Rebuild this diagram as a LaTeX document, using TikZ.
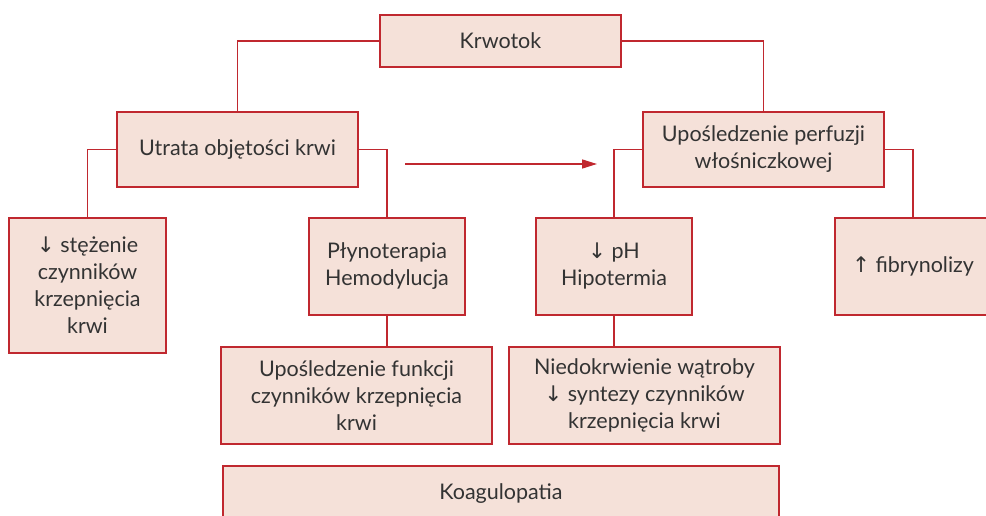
\documentclass[tikz,border=0pt]{standalone}
\usepackage{fontspec}
\setmainfont{Lato}
\newfontfamily\arrowfont{DejaVu Sans}
\usetikzlibrary{arrows.meta}
\definecolor{boxfill}{HTML}{F5E1D9}
\definecolor{boxline}{HTML}{C0282F}
\definecolor{txt}{HTML}{333333}
\newcommand{\dn}{{\arrowfont\char"2193}}
\newcommand{\up}{{\arrowfont\char"2191}}
\tikzset{
  box/.style={draw=boxline, fill=boxfill, line width=1.5pt, rectangle,
    align=center, inner sep=0pt, text=txt,
    font=\fontsize{21.5}{27}\selectfont},
  link/.style={draw=boxline, line width=1.5pt},
  flow/.style={link, -{Triangle[length=15pt,width=9pt]}}
}
\begin{document}
\begin{tikzpicture}[x=1pt,y=-1pt]
\useasboundingbox (0,0) rectangle (986,516);
\clip (0,0) rectangle (986,516);

% top level
\node[box, minimum width=241pt, minimum height=52pt] (krw) at (500.5,41) {Krwotok};

% second level
\node[box, minimum width=241pt, minimum height=75pt] (utr) at (237.5,149.5) {Utrata objętości krwi};
\node[box, minimum width=241pt, minimum height=75pt] (perf) at (763.5,149.5) {Upośledzenie perfuzji\\włośniczkowej};

% third level
\node[box, minimum width=157pt, minimum height=135pt] (stez) at (87.5,285.5) {\dn\ stężenie\\czynników\\krzepnięcia\\krwi};
\node[box, minimum width=156pt, minimum height=97pt] (plyn) at (387,266.5) {Płynoterapia\\Hemodylucja};
\node[box, minimum width=156pt, minimum height=97pt] (ph) at (614,266.5) {\dn\ pH\\Hipotermia};
\node[box, minimum width=156pt, minimum height=97pt] (fib) at (913,266.5) {\up\ fibrynolizy};

% fourth level
\node[box, minimum width=271pt, minimum height=97pt] (funk) at (356.5,395.5) {Upośledzenie funkcji\\czynników krzepnięcia\\krwi};
\node[box, minimum width=271pt, minimum height=97pt] (nied) at (644.5,395.5) {Niedokrwienie wątroby\\\dn\ syntezy czynników\\krzepnięcia krwi};

% bottom
\node[box, minimum width=556pt, minimum height=56pt] (koag) at (501,494) {Koagulopatia};

% connectors
\draw[link] (krw.west) -| (utr.north);
\draw[link] (krw.east) -| (perf.north);
\draw[link] (utr.west) -| (stez.north);
\draw[link] (utr.east) -| (plyn.north);
\draw[link] (perf.west) -| (ph.north);
\draw[link] (perf.east) -| (fib.north);
\draw[link] (plyn.south) -- (plyn.south |- funk.north);
\draw[link] (ph.south) -- (ph.south |- nied.north);

% horizontal arrow between the two branches
\coordinate (arrA) at (405,164);
\coordinate (arrB) at (597,164);
\draw[flow] (arrA) -- (arrB);
\end{tikzpicture}
\end{document}
